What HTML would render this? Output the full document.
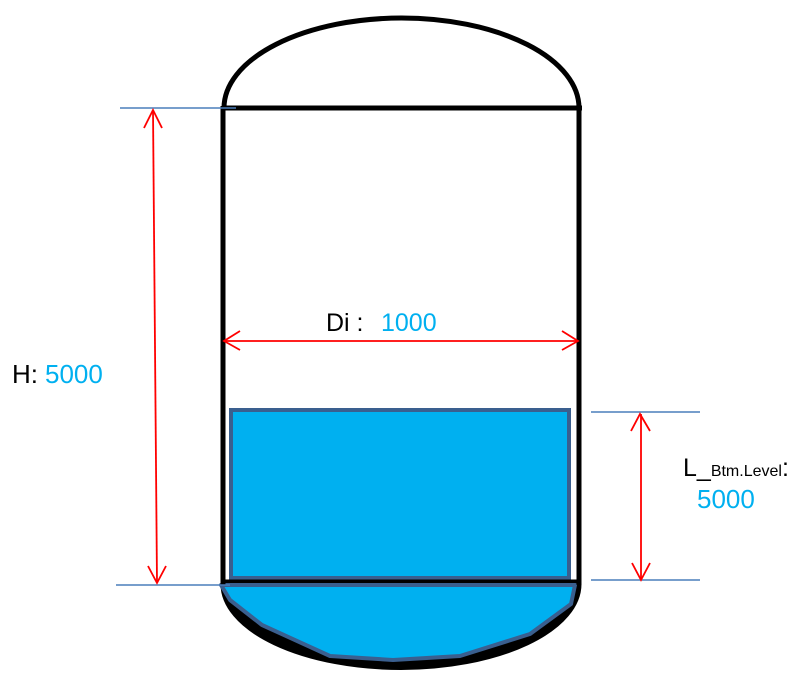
<!DOCTYPE html>
<html><head><meta charset="utf-8"><style>
html,body{margin:0;padding:0;background:#fff;}
svg{display:block;}
text{font-family:"Liberation Sans",sans-serif;}
</style></head><body>
<svg width="796" height="675" viewBox="0 0 796 675" xmlns="http://www.w3.org/2000/svg">
<path d="M222,584 A178,84 0 0 0 580,584 Z" fill="#000" stroke="#000" stroke-width="3"/>
<polygon points="221,585 230,600 262,625 330,656 393,660 460,656 530,634 571,604 575,585" fill="#00b0f0" stroke="#3a5f8f" stroke-width="4" stroke-linejoin="round"/>
<path d="M224,108 A177.5,90 0 0 1 579,108" fill="none" stroke="#000" stroke-width="5"/>
<line x1="224" y1="108" x2="582" y2="108" stroke="#000" stroke-width="5"/>
<line x1="223" y1="106" x2="223" y2="585" stroke="#000" stroke-width="5"/>
<line x1="579" y1="106" x2="579" y2="585" stroke="#000" stroke-width="5"/>
<rect x="231" y="410" width="338" height="168" fill="#00b0f0" stroke="#3a5f8f" stroke-width="4"/>
<line x1="223" y1="581" x2="579" y2="581" stroke="#000" stroke-width="3"/>
<g stroke="#4a7ebb" stroke-width="1.5">
<line x1="120" y1="108" x2="236" y2="108"/>
<line x1="116" y1="585" x2="230" y2="585"/>
<line x1="591" y1="412" x2="700" y2="412"/>
<line x1="591" y1="580" x2="700" y2="580"/>
</g>
<g stroke="#ff0000" stroke-width="1.8" fill="none">
<line x1="153" y1="110" x2="157" y2="583"/>
<polyline points="144,128 153,110 162,128"/>
<polyline points="148,566 157,583 166,566"/>
<line x1="224" y1="341" x2="578" y2="341"/>
<polyline points="240,331 224,341 240,350"/>
<polyline points="562,331 578,341 562,350"/>
<line x1="641" y1="414" x2="641" y2="580"/>
<polyline points="631,431 640,414 650,431"/>
<polyline points="632,563 641,580 650,563"/>
</g>
<text x="12" y="383" font-size="26" fill="#000">H:</text>
<text x="45" y="383" font-size="26" fill="#00b0f0">5000</text>
<text x="326" y="331" font-size="25" fill="#000">Di :</text>
<text x="381" y="331" font-size="25" fill="#00b0f0">1000</text>
<text x="683" y="476" font-size="25" fill="#000">L_<tspan font-size="16">Btm.Level</tspan>:</text>
<text x="697" y="508" font-size="26" fill="#00b0f0">5000</text>
</svg>
</body></html>
